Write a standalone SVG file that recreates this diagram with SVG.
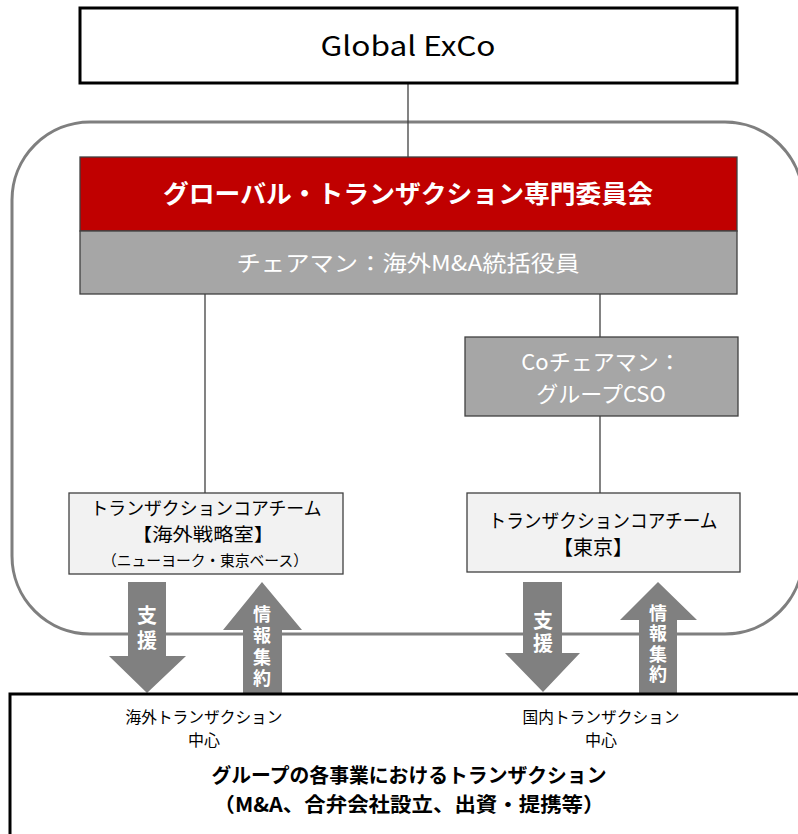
<svg xmlns="http://www.w3.org/2000/svg" width="798" height="834" viewBox="0 0 798 834">
<style>
text{font-family:"Noto Sans CJK JP","Noto Sans",sans-serif;text-anchor:middle}
.w{fill:#fff}
.k{fill:#000}
.b{font-weight:bold}
.v{writing-mode:vertical-rl}
.conn{stroke:#404040;stroke-width:1.3;fill:none}
.arrow{fill:#808080}
.gbox{fill:#a6a6a6;stroke:#404040;stroke-width:1.3}
.lbox{fill:#f2f2f2;stroke:#404040;stroke-width:1.3}
</style>
<rect width="798" height="834" fill="#fff"/>
<g id="container">
<rect x="12" y="122" width="791" height="512" rx="78" ry="78" fill="none" stroke="#7f7f7f" stroke-width="3"/>
</g>
<g id="connectors">
<line class="conn" x1="408" y1="83" x2="408" y2="157"/>
<line class="conn" x1="205" y1="294" x2="205" y2="493"/>
<line class="conn" x1="600" y1="294" x2="600" y2="337"/>
<line class="conn" x1="600" y1="416" x2="600" y2="493"/>
</g>
<g id="global-exco">
<rect x="80" y="8" width="657" height="75" fill="#fff" stroke="#000" stroke-width="3"/>
<text x="408" y="56" font-size="27" class="k" textLength="175" lengthAdjust="spacingAndGlyphs">Global ExCo</text>
</g>
<g id="committee">
<rect x="80" y="157" width="657" height="74" fill="#c00000" stroke="#404040" stroke-width="1.3"/>
<text x="408" y="203" font-size="25" class="w b" textLength="490" lengthAdjust="spacingAndGlyphs">グローバル・トランザクション専門委員会</text>
</g>
<g id="chairman">
<rect class="gbox" x="80" y="231" width="657" height="63"/>
<text x="408" y="271" font-size="22" class="w" textLength="343" lengthAdjust="spacingAndGlyphs">チェアマン：海外M&amp;A統括役員</text>
</g>
<g id="co-chairman">
<rect class="gbox" x="465" y="337" width="273" height="79"/>
<text x="601" y="370" font-size="22" class="w">Coチェアマン：</text>
<text x="601" y="402" font-size="22" class="w">グループCSO</text>
</g>
<g id="core-overseas">
<rect class="lbox" x="69" y="493" width="274" height="81"/>
<text x="206" y="515" font-size="18" class="k" textLength="231" lengthAdjust="spacingAndGlyphs">トランザクションコアチーム</text>
<text x="203" y="541" font-size="18" class="k" textLength="142" lengthAdjust="spacingAndGlyphs">【海外戦略室】</text>
<text x="205" y="566" font-size="15" class="k" textLength="206" lengthAdjust="spacingAndGlyphs">（ニューヨーク・東京ベース）</text>
</g>
<g id="core-tokyo">
<rect class="lbox" x="467" y="493" width="273" height="79"/>
<text x="603" y="528" font-size="19" class="k" textLength="229" lengthAdjust="spacingAndGlyphs">トランザクションコアチーム</text>
<text x="593" y="555" font-size="20" class="k">【東京】</text>
</g>
<g id="arrow-support-left">
<polygon class="arrow" points="128,582 166,582 166,656 186,656 147,693 109,656 128,656"/>
<text class="v w b" x="147" y="630" font-size="20" letter-spacing="5">支援</text>
</g>
<g id="arrow-info-left">
<polygon class="arrow" points="262,582 302,630 282,630 282,693 243,693 243,630 223,630"/>
<text class="v w b" x="262" y="648" font-size="18" letter-spacing="3.5">情報集約</text>
</g>
<g id="arrow-support-right">
<polygon class="arrow" points="523,582 562,582 562,653 580,653 543,692 505,653 523,653"/>
<text class="v w b" x="543" y="633" font-size="20" letter-spacing="3">支援</text>
</g>
<g id="arrow-info-right">
<polygon class="arrow" points="658,582 697,620 677,620 677,693 639,693 639,620 620,620"/>
<text class="v w b" x="658" y="645" font-size="18" letter-spacing="2.5">情報集約</text>
</g>
<g id="group-transactions">
<rect x="10" y="694" width="800" height="150" fill="#fff" stroke="#000" stroke-width="3"/>
<text x="204" y="723" font-size="16" class="k" textLength="157" lengthAdjust="spacingAndGlyphs">海外トランザクション</text>
<text x="204" y="746" font-size="16" class="k">中心</text>
<text x="601" y="723" font-size="16" class="k" textLength="157" lengthAdjust="spacingAndGlyphs">国内トランザクション</text>
<text x="601" y="746" font-size="16" class="k">中心</text>
<text x="409" y="783" font-size="20" class="k b" textLength="395" lengthAdjust="spacingAndGlyphs">グループの各事業におけるトランザクション</text>
<text x="409" y="812" font-size="20" class="k b" textLength="391" lengthAdjust="spacingAndGlyphs">（M&amp;A、合弁会社設立、出資・提携等）</text>
</g>
</svg>
